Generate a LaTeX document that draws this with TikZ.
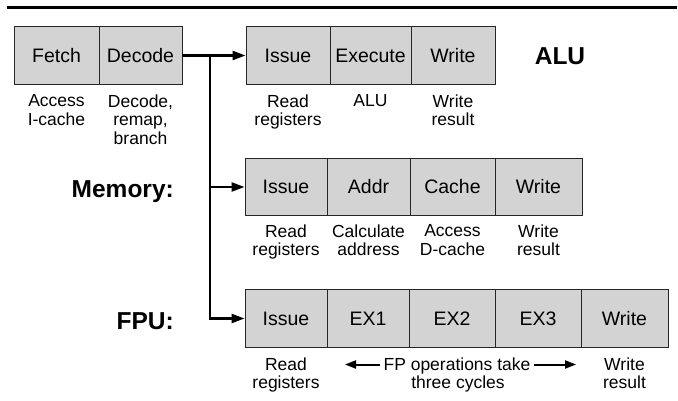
\documentclass[tikz,border=0pt]{standalone}
\usepackage{fontspec}
\setmainfont{Liberation Sans}
\usetikzlibrary{arrows.meta}
\definecolor{boxgray}{RGB}{211,211,211}
\begin{document}
\begin{tikzpicture}[x=1pt,y=-1pt,
  stagebox/.style={draw=black!85, line width=0.9pt, fill=boxgray, minimum height=57.5pt,
    inner sep=0pt, font=\fontsize{19.5}{22}\selectfont},
  lbl/.style={anchor=north, align=center, inner sep=0pt, font=\fontsize{17.5}{18.6}\selectfont},
  unitlbl/.style={inner sep=0pt, font=\fontsize{24.5}{28}\selectfont\bfseries},
  arr/.style={line width=2.3pt, -{Triangle[length=13pt,width=9pt]}},
  smallarr/.style={line width=2pt, -{Triangle[length=11pt,width=8pt]}}]
\useasboundingbox (0,0) rectangle (678,401);
% top rule
\coordinate (tl) at (7,7.5);
\coordinate (tr) at (677,7.5);
\draw[line width=2.5pt] (tl) -- (tr);
% row 1
\node[stagebox, minimum width=85pt] (fetch) at (56.5,55.5) {Fetch};
\node[stagebox, minimum width=83pt] (dec) at (140.5,55.5) {Decode};
\node[stagebox, minimum width=84pt] (iss1) at (288,55.5) {Issue};
\node[stagebox, minimum width=81pt] (exe) at (370.5,55.5) {Execute};
\node[stagebox, minimum width=84pt] (wr1) at (453,55.5) {Write};
\node[unitlbl, anchor=base] (alu) at (560,65) {ALU};
\node[lbl] (l11) at (56.5,94.4) {Access\\I-cache};
\node[lbl] (l12) at (140.5,94.4) {Decode,\\remap,\\branch};
\node[lbl] (l13) at (288,94.4) {Read\\registers};
\node[lbl] (l14) at (370.5,94.4) {ALU};
\node[lbl] (l15) at (453,94.4) {Write\\result};
% row 2
\node[stagebox, minimum width=82pt] (iss2) at (286,187) {Issue};
\node[stagebox, minimum width=83pt] (addr) at (368.5,187) {Addr};
\node[stagebox, minimum width=85pt] (cache) at (452.5,187) {Cache};
\node[stagebox, minimum width=87pt] (wr2) at (538.5,187) {Write};
\node[unitlbl, anchor=base east] (mem) at (174,197) {Memory:};
\node[lbl] (l21) at (286,224.4) {Read\\registers};
\node[lbl] (l22) at (368.5,224.4) {Calculate\\address};
\node[lbl] (l23) at (452.5,224.4) {Access\\D-cache};
\node[lbl] (l24) at (538.5,224.4) {Write\\result};
% row 3
\node[stagebox, minimum width=82pt] (iss3) at (286,318.5) {Issue};
\node[stagebox, minimum width=82pt] (ex1) at (368,318.5) {EX1};
\node[stagebox, minimum width=86pt] (ex2) at (452,318.5) {EX2};
\node[stagebox, minimum width=86pt] (ex3) at (538,318.5) {EX3};
\node[stagebox, minimum width=87pt] (wr3) at (624.5,318.5) {Write};
\node[unitlbl, anchor=base east] (fpu) at (174,329) {FPU:};
\node[lbl] (l31) at (286,357.4) {Read\\registers};
\node[lbl, anchor=base] (fp1) at (457,370) {FP operations take};
\node[lbl, anchor=base] (fp2) at (458,388.6) {three cycles};
\node[lbl] (l33) at (624.5,357.4) {Write\\result};
\coordinate (arrL) at (345,364.5);
\coordinate (arrR) at (576,364.5);
\draw[smallarr] ([xshift=-3pt]fp1.west |- arrL) -- (arrL);
\draw[smallarr] ([xshift=3pt]fp1.east |- arrR) -- (arrR);
% connectors
\coordinate (j) at (210,55.5);
\draw[arr] (dec.east) -- (iss1.west);
\draw[arr] (j |- iss2.west) -- (iss2.west);
\draw[arr, miter limit=10] (j) |- (iss3.west);
\end{tikzpicture}
\end{document}
